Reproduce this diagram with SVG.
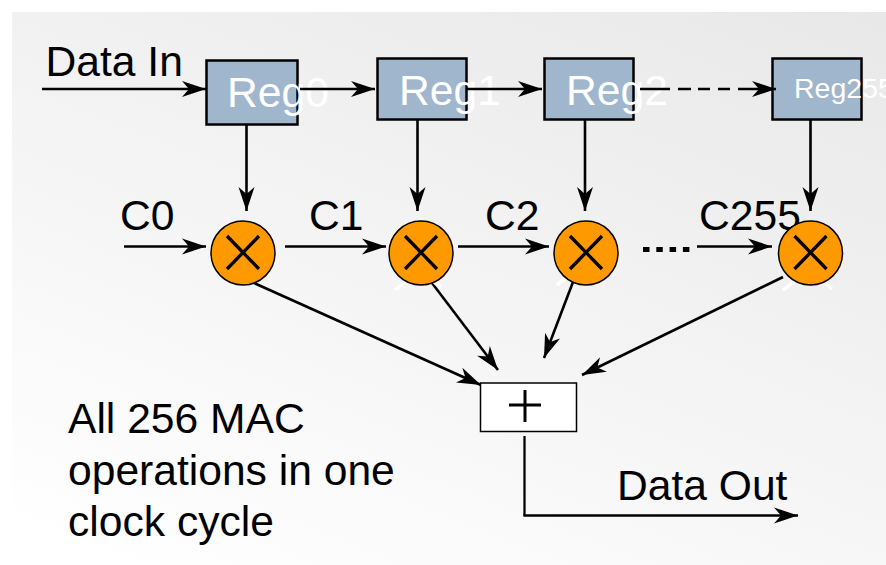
<svg xmlns="http://www.w3.org/2000/svg" width="886" height="565" viewBox="0 0 886 565">
<style>
text{font-family:"Liberation Sans",Arial,sans-serif;fill:#000}
.lb{font-size:42.6px}
.w{fill:#fff}
.reg{fill:#9fb6cd;stroke:#000;stroke-width:2.5}
.mul{fill:#ff9900;stroke:#000;stroke-width:1.5}
.x{stroke:#000;stroke-width:3.3;fill:none}
.c{stroke:#000;stroke-width:2.6;fill:none;marker-end:url(#a)}
.hl{stroke:#fff;stroke-width:3.5;fill:none}
</style>
<defs>
<linearGradient id="bg" gradientUnits="userSpaceOnUse" x1="12" y1="565" x2="317" y2="-211">
<stop offset="0.04" stop-color="#ffffff"/><stop offset="1" stop-color="#e8e8e8"/>
</linearGradient>
<marker id="a" markerUnits="userSpaceOnUse" markerWidth="26" markerHeight="18" refX="24" refY="8" orient="auto" viewBox="0 0 26 16">
<path d="M0 0L24 8L0 16L7 8Z" fill="#000"/>
</marker>
</defs>
<rect width="886" height="565" fill="#fff"/>
<rect x="12" y="12" width="874" height="553" fill="url(#bg)"/>
<g id="reg0"><rect class="reg" x="206.500" y="60.500" width="91" height="64"/><text class="w lb" x="227" y="107">Reg0</text></g>
<g id="reg1"><rect class="reg" x="377.500" y="58.500" width="89" height="61"/><text class="w lb" x="399" y="105">Reg1</text></g>
<g id="reg2"><rect class="reg" x="544.500" y="58.500" width="89" height="61"/><text class="w lb" x="566" y="105">Reg2</text></g>
<g id="reg255"><rect class="reg" x="772.500" y="58.500" width="89" height="61"/><text class="w" font-size="28.500" x="794" y="98">Reg255</text></g>
<g id="connectors">
<path class="c" d="M42 89H206"/>
<path class="c" d="M300 89H375"/>
<path class="c" d="M467 89H542"/>
<path class="c" d="M640 89H776" stroke-width="3.100" stroke-dasharray="30 8 13 7 12 8 12 8 46"/>
<path class="c" d="M246.500 125V211"/>
<path class="c" d="M417.500 120V211"/>
<path class="c" d="M585 120V211"/>
<path class="c" d="M810.500 120V211"/>
<path class="c" d="M124 246.500H206"/>
<path class="c" d="M285 246.500H386"/>
<path class="c" d="M458 246.500H549"/>
<path class="c" d="M697 246.500H772"/>
<path class="c" d="M254 283L481 385"/>
<path class="c" d="M432 283L498 370"/>
<path class="c" d="M573 282L544 358"/>
<path class="c" d="M783 277L582 375"/>
<path d="M524.500 436V516" stroke="#000" stroke-width="2.300" fill="none"/>
<path class="c" d="M523.500 515.500H798"/>
<path d="M643 249.500H691" stroke="#000" stroke-width="5" stroke-dasharray="6.500 6.800" fill="none"/>
</g>
<g id="labels">
<text class="lb" x="45.500" y="76">Data In</text>
<text class="lb" x="120" y="230">C0</text>
<text class="lb" x="309" y="230">C1</text>
<text class="lb" x="485" y="230">C2</text>
<text class="lb" x="699" y="230">C255</text>
<text class="lb" x="617" y="499.500">Data Out</text>
<text class="lb" x="68" y="433">All 256 MAC</text>
<text class="lb" x="68" y="484.500">operations in one</text>
<text class="lb" x="68" y="536">clock cycle</text>
</g>
<g id="mul0"><circle class="mul" cx="243" cy="253" r="32"/><path class="x" d="M227 236L259 269M259 236L227 269"/></g>
<g id="mul1"><path class="hl" d="M395 290L406 282M434 282L441 287"/><circle class="mul" cx="421" cy="253" r="32"/><path class="x" d="M405 236L437 269M437 236L405 269"/></g>
<g id="mul2"><path class="hl" d="M557 285L566 278"/><circle class="mul" cx="586" cy="253" r="32"/><path class="x" d="M570 236L602 269M602 236L570 269"/></g>
<g id="mul255"><path class="hl" d="M783 290L795 281M824 282L832 289"/><circle class="mul" cx="810.500" cy="253" r="32"/><path class="x" d="M794.500 236L826.500 269M826.500 236L794.500 269"/></g>
<g id="adder"><rect x="480.500" y="383" width="96" height="48.500" fill="#fff" stroke="#000" stroke-width="1.500"/><path d="M509 405H541M525 390V422" stroke="#000" stroke-width="3" fill="none"/></g>
</svg>
